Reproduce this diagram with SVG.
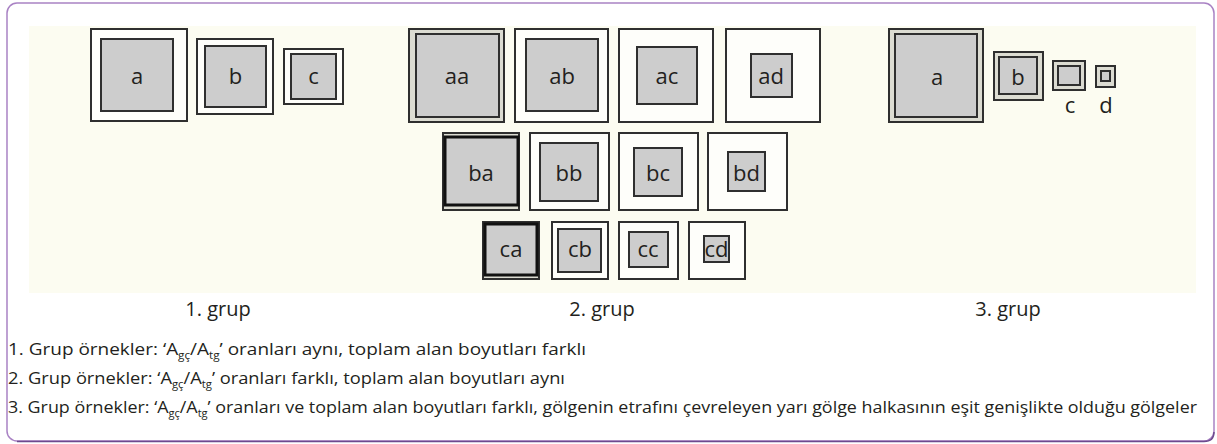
<svg xmlns="http://www.w3.org/2000/svg" width="1217" height="444" viewBox="0 0 1217 444">
<style>
.o{fill:#fefefa;stroke:#2f2f2f;stroke-width:2}
.ob{fill:#dcdcd2;stroke:#2f2f2f;stroke-width:2}
.i{fill:#cdcdcd;stroke:#2f2f2f;stroke-width:2}
.ik{fill:#cdcdcd;stroke:#111;stroke-width:3}
.lb{font-family:"Open Sans","Noto Sans",sans-serif;font-size:22px;fill:#231f20;text-anchor:middle}
.gl{font-family:"Open Sans","Noto Sans",sans-serif;font-size:20px;fill:#231f20;text-anchor:middle}
.cap{font-family:"Open Sans","Noto Sans",sans-serif;font-size:17px;fill:#231f20}
.sub{font-size:10.5px}
</style>
<rect x="7" y="3" width="1207" height="438" rx="10" fill="#ffffff" stroke="#a982c4" stroke-width="1.5"/>
<path d="M17 441.5 H1204 Q1214 441.5 1214 432" fill="none" stroke="#6d4a8e" stroke-width="1.5"/>
<rect x="29" y="26" width="1167" height="267" fill="#fcfcf1"/>
<g id="connectors"></g>
<g id="g1-a"><rect class="o" x="91" y="29" width="96" height="92"/><rect class="i" x="101" y="39" width="72" height="72"/><text class="lb" x="137" y="84">a</text></g>
<g id="g1-b"><rect class="o" x="197" y="39" width="76" height="75"/><rect class="i" x="205" y="46" width="61" height="61"/><text class="lb" x="235.5" y="84">b</text></g>
<g id="g1-c"><rect class="o" x="284" y="49" width="59" height="55"/><rect class="i" x="291" y="54" width="45" height="45"/><text class="lb" x="313.5" y="84">c</text></g>
<g id="g2-aa"><rect class="ob" x="409" y="29" width="95" height="93"/><rect class="i" x="416" y="34" width="83" height="83"/><text class="lb" x="457" y="84">aa</text></g>
<g id="g2-ab"><rect class="o" x="515" y="29" width="93" height="93"/><rect class="i" x="526" y="39" width="72" height="72"/><text class="lb" x="562" y="84">ab</text></g>
<g id="g2-ac"><rect class="o" x="619" y="29" width="94" height="93"/><rect class="i" x="637" y="47" width="60" height="57"/><text class="lb" x="667" y="84">ac</text></g>
<g id="g2-ad"><rect class="o" x="726" y="29" width="94" height="93"/><rect class="i" x="751" y="54" width="41" height="43"/><text class="lb" x="771" y="84">ad</text></g>
<g id="g2-ba"><rect class="ob" x="443" y="133" width="76" height="77"/><rect class="ik" x="445" y="137" width="73" height="68"/><text class="lb" x="481" y="181">ba</text></g>
<g id="g2-bb"><rect class="o" x="530" y="133" width="79" height="77"/><rect class="i" x="540" y="143" width="58" height="58"/><text class="lb" x="569" y="181">bb</text></g>
<g id="g2-bc"><rect class="o" x="619" y="133" width="79" height="77"/><rect class="i" x="634" y="148" width="48" height="48"/><text class="lb" x="658" y="181">bc</text></g>
<g id="g2-bd"><rect class="o" x="708" y="133" width="79" height="77"/><rect class="i" x="728" y="152" width="37" height="39"/><text class="lb" x="746.5" y="181">bd</text></g>
<g id="g2-ca"><rect class="ob" x="483" y="222" width="56" height="57"/><rect class="ik" x="485" y="224" width="52" height="51"/><text class="lb" x="511" y="257">ca</text></g>
<g id="g2-cb"><rect class="o" x="552" y="222" width="56" height="57"/><rect class="i" x="558" y="229" width="43" height="43"/><text class="lb" x="580" y="257">cb</text></g>
<g id="g2-cc"><rect class="o" x="619" y="222" width="59" height="57"/><rect class="i" x="629" y="232" width="39" height="35"/><text class="lb" x="648" y="257">cc</text></g>
<g id="g2-cd"><rect class="o" x="689" y="222" width="56" height="57"/><rect class="i" x="704" y="236" width="25" height="26"/><text class="lb" x="716.5" y="257">cd</text></g>
<g id="g3-a"><rect class="ob" x="889" y="29" width="94" height="93"/><rect class="i" x="895" y="34" width="82" height="83"/><text class="lb" x="937" y="85">a</text></g>
<g id="g3-b"><rect class="ob" x="994" y="52" width="49" height="48"/><rect class="i" x="999" y="57" width="38" height="37"/><text class="lb" x="1018" y="85">b</text></g>
<g id="g3-c"><rect class="ob" x="1053" y="61" width="32" height="29"/><rect class="i" x="1058" y="66" width="22" height="19"/><text class="lb" x="1070" y="113">c</text></g>
<g id="g3-d"><rect class="ob" x="1096" y="66" width="19" height="21"/><rect class="i" x="1101" y="71" width="9" height="10"/><text class="lb" x="1106" y="113">d</text></g>
<text class="gl" x="218" y="316">1. grup</text>
<text class="gl" x="602" y="316">2. grup</text>
<text class="gl" x="1008" y="316">3. grup</text>
<text class="cap" x="8" y="355" textLength="578" lengthAdjust="spacingAndGlyphs">1. Grup örnekler: ‘A<tspan class="sub" dy="4">gç</tspan><tspan dy="-4">/A</tspan><tspan class="sub" dy="4">tg</tspan><tspan dy="-4">’ oranları aynı, toplam alan boyutları farklı</tspan></text>
<text class="cap" x="8" y="384" textLength="557" lengthAdjust="spacingAndGlyphs">2. Grup örnekler: ‘A<tspan class="sub" dy="4">gç</tspan><tspan dy="-4">/A</tspan><tspan class="sub" dy="4">tg</tspan><tspan dy="-4">’ oranları farklı, toplam alan boyutları aynı</tspan></text>
<text class="cap" x="8" y="413" textLength="1189" lengthAdjust="spacingAndGlyphs">3. Grup örnekler: ‘A<tspan class="sub" dy="4">gç</tspan><tspan dy="-4">/A</tspan><tspan class="sub" dy="4">tg</tspan><tspan dy="-4">’ oranları ve toplam alan boyutları farklı, gölgenin etrafını çevreleyen yarı gölge halkasının eşit genişlikte olduğu gölgeler</tspan></text>
</svg>
